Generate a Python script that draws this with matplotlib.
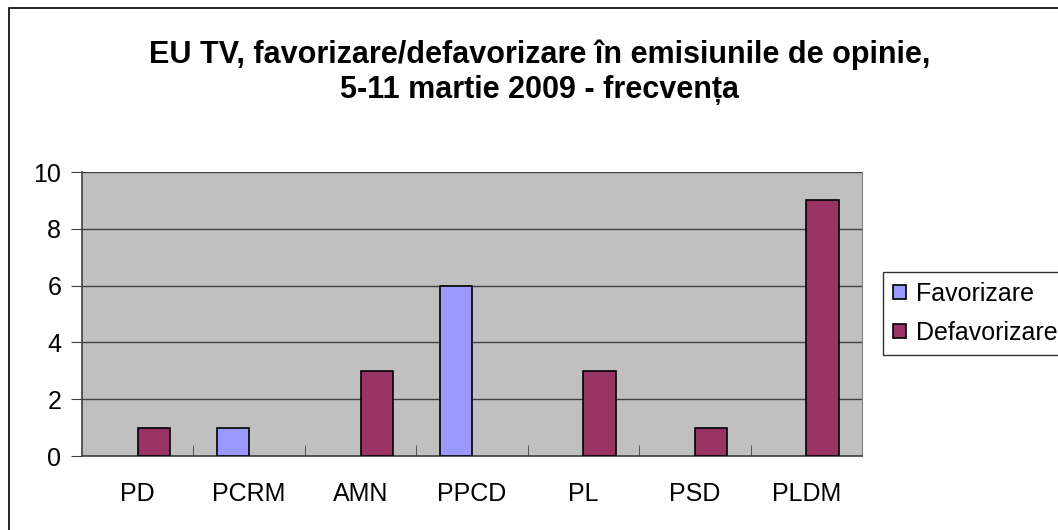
import numpy as np
import matplotlib
matplotlib.use("Agg")
import matplotlib.pyplot as plt
from matplotlib.patches import Rectangle, Patch

partide = ["PD", "PCRM", "AMN", "PPCD", "PL", "PSD", "PLDM"]
favorizare = [0, 1, 0, 6, 0, 0, 0]
defavorizare = [1, 0, 3, 0, 3, 1, 9]
serii = ["Favorizare", "Defavorizare"]
culori = ["#9999FF", "#993366"]
titlu = "EU TV, favorizare/defavorizare în emisiunile de opinie,\n5-11 martie 2009 - frecvența"

plt.rcParams["font.family"] = ["Liberation Sans", "DejaVu Sans"]

fig = plt.figure(figsize=(10.58, 5.30), dpi=100)
W, H = 1058, 530
# zona graficului (pixeli din imagine)
x0, x1, y0, y1 = 82, 862, 172, 456
ax = fig.add_axes([x0 / W, 1 - y1 / H, (x1 - x0) / W, (y1 - y0) / H])
ax.set_facecolor("#C0C0C0")

x = np.arange(len(partide))
w = 0.29
b1 = ax.bar(x - w / 2, favorizare, w, color=culori[0], edgecolor="black", linewidth=1.2,
            zorder=3)
b2 = ax.bar(x + w / 2, defavorizare, w, color=culori[1], edgecolor="black", linewidth=1.2,
            zorder=3)
# barele cu valoarea 0 nu se vad in original
for p in list(b1) + list(b2):
    if p.get_height() == 0:
        p.set_visible(False)

ax.set_xlim(-0.5, len(partide) - 0.5)
ax.set_ylim(0, 10)
ax.set_yticks(range(0, 11, 2))
ax.yaxis.grid(True, color="#404040", linewidth=1.0, zorder=1)
ax.set_axisbelow(True)

ax.set_xticks(x)
ax.set_xticklabels(partide, fontsize=18)
ax.tick_params(axis="x", which="major", length=0, pad=19)
ax.set_xticks(np.arange(0.5, len(partide) - 0.5), minor=True)
ax.tick_params(axis="x", which="minor", direction="in", length=8, color="#404040")
ax.tick_params(axis="y", direction="out", length=8, color="#404040", labelsize=18, pad=7)

for s in ["left", "bottom"]:
    ax.spines[s].set_color("#404040")
    ax.spines[s].set_linewidth(1.2)
ax.spines["top"].set_visible(False)
ax.spines["right"].set_color("#808080")

fig.text(540 / W, 1 - 98 / H, titlu, ha="center", va="baseline", fontsize=22,
         fontweight="bold", linespacing=1.2, multialignment="center")

handles = [Patch(facecolor=c, edgecolor="black", linewidth=1.2) for c in culori]
leg = fig.legend(handles, serii, loc="upper left", bbox_to_anchor=(883 / W, 1 - 272 / H),
                 fontsize=18, frameon=True, fancybox=False, edgecolor="black",
                 borderpad=0.4, handlelength=0.5, handleheight=0.5, handletextpad=0.4,
                 labelspacing=0.6, borderaxespad=0)
leg.get_frame().set_linewidth(1.0)

# chenarul din jurul diagramei
fig.patches.append(Rectangle((9 / W, -0.1), 1.2, 1 - 8 / H + 0.1,
                             transform=fig.transFigure, fill=False,
                             edgecolor="black", linewidth=1.2))

fig.savefig("out.png", dpi=100)
